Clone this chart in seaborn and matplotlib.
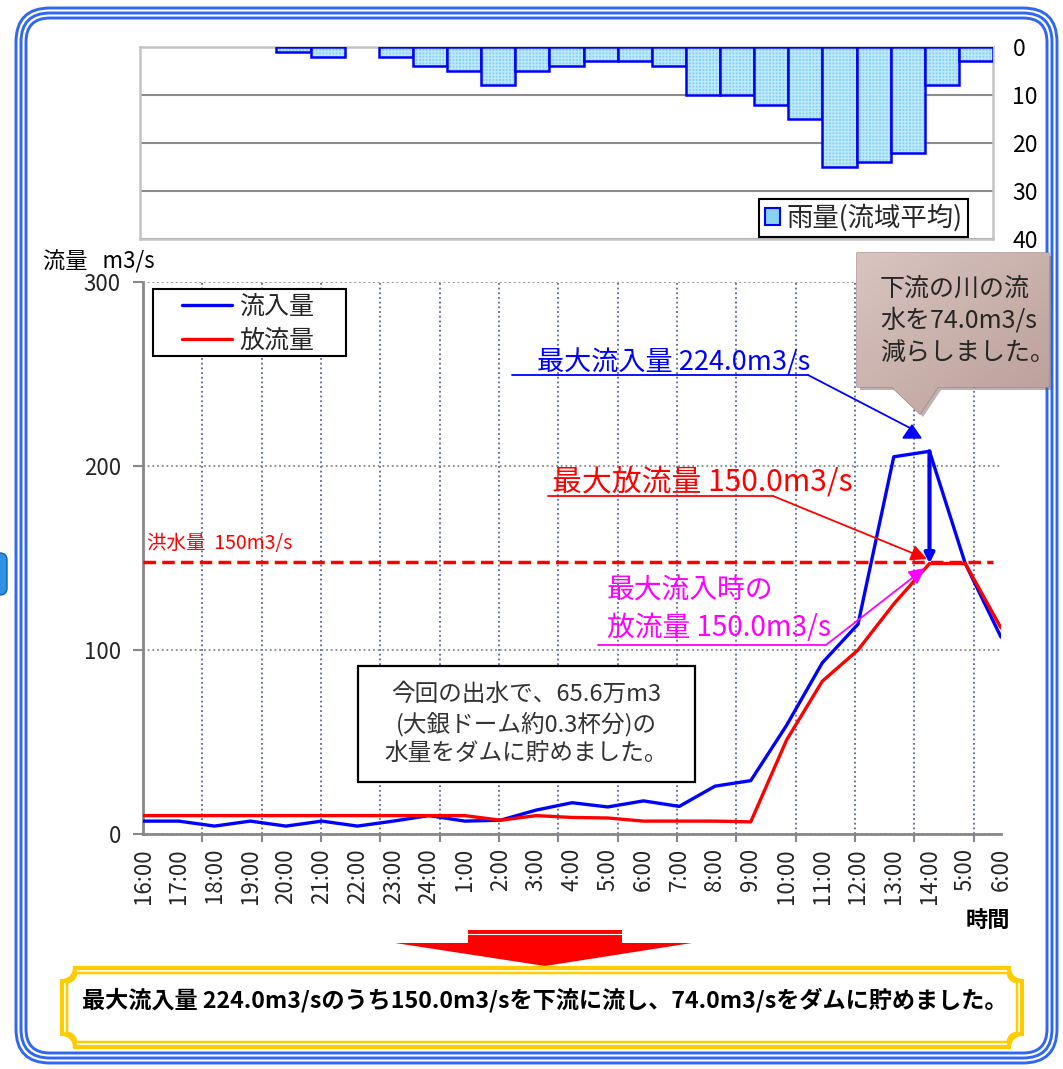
import numpy as np
import pandas as pd
import matplotlib
matplotlib.use("Agg")
import matplotlib.pyplot as plt
import seaborn as sns
from matplotlib.patches import FancyBboxPatch, Rectangle, Polygon, Patch
from matplotlib.lines import Line2D
from matplotlib.colors import to_rgba

# ---------------- data ----------------
time_labels = ['16:00', '17:00', '18:00', '19:00', '20:00', '21:00', '22:00', '23:00',
               '24:00', '1:00', '2:00', '3:00', '4:00', '5:00', '6:00', '7:00', '8:00',
               '9:00', '10:00', '11:00', '12:00', '13:00', '14:00', '5:00', '6:00']
inflow = [7, 7, 4.3, 7, 4.3, 7, 4.3, 7, 10, 7, 7.5, 13, 17, 14.7, 18, 15, 26, 29,
          59, 93, 114, 205, 208, 147, 107]
outflow = [10, 10, 10, 10, 10, 10, 10, 10, 10, 10, 7.5, 10, 9, 8.7, 7, 7, 7, 6.6,
           51, 83, 100, 125, 147, 147, 112]
rain = [0, 0, 0, 0, 1, 2, 0, 2, 4, 5, 8, 5, 4, 3, 3, 4, 10, 10, 12, 15, 25, 24, 22, 8, 3]
flood_level = 148
series_names = ['流入量', '放流量']
rain_name = '雨量(流域平均)'
rain_ticks = [0, 10, 20, 30, 40]
flow_ticks = [0, 100, 200, 300]

# ---------------- style ----------------
sns.set_theme(style='white')
plt.rcParams['font.family'] = ['Noto Sans CJK JP', 'DejaVu Sans']
plt.rcParams['axes.unicode_minus'] = False
plt.rcParams['hatch.linewidth'] = 1.0

W, H = 1063, 1069
fig = plt.figure(figsize=(W / 100, H / 100), dpi=100)
fig.patch.set_facecolor('white')


def rect(l, t, r, b):
    return [l / W, 1 - b / H, (r - l) / W, (b - t) / H]


BLUE = '#0000FF'
RED = '#FF0000'
MAGENTA = '#FF00FF'
CYAN = '#86D3F5'
CYAN_TEX = '#BDE8FA'

# ---------------- rain chart ----------------
axr = fig.add_axes(rect(140, 47, 993, 239))
slots = list(range(len(rain)))
rdf = pd.DataFrame({'slot': slots, 'rain': rain})
sns.barplot(data=rdf, x='slot', y='rain', color=CYAN, edgecolor=BLUE, linewidth=1.8,
            width=1.0, saturation=1, errorbar=None, ax=axr, zorder=3)
for p in axr.patches:
    if p.get_height() == 0:
        p.set_visible(False)
    else:
        p.set_hatch('+++++')
        p._hatch_color = to_rgba(CYAN_TEX)
axr.set_xlim(-0.5, len(rain) - 0.5)
axr.set_ylim(40, 0)
axr.set_yticks(rain_ticks)
axr.yaxis.tick_right()
axr.tick_params(axis='y', length=0, pad=14, labelsize=16.5, colors='black', right=False)
axr.set_xticks([])
axr.set_xlabel('')
axr.set_ylabel('')
axr.yaxis.grid(True, color='#8C8C8C', lw=1.5)
axr.set_axisbelow(True)
for s in axr.spines.values():
    s.set_color('#C4C4C4')
    s.set_linewidth(1.8)
leg_r = axr.legend(handles=[Patch(facecolor=CYAN, edgecolor=BLUE, lw=1.5)], labels=[rain_name],
                   loc='lower right', bbox_to_anchor=(0.971, 0.01), fontsize=19,
                   frameon=True, fancybox=False, edgecolor='black', framealpha=1,
                   handlelength=0.6, handleheight=0.6, handletextpad=0.25, borderpad=0.2,
                   borderaxespad=0)
leg_r.get_frame().set_linewidth(1.5)

# ---------------- main flow chart ----------------
ax = fig.add_axes(rect(143, 282, 1001, 834))
pos = list(range(len(time_labels)))
df = pd.DataFrame({'pos': pos * 2, 'flow': inflow + outflow,
                   'series': [series_names[0]] * len(inflow) + [series_names[1]] * len(outflow)})
sns.lineplot(data=df, x='pos', y='flow', hue='series', hue_order=series_names,
             palette={series_names[0]: BLUE, series_names[1]: RED}, linewidth=2.4,
             legend=False, sort=False, ax=ax, zorder=4)
ax.set_xlim(0, len(pos) - 1)
ax.set_ylim(0, 300)
ax.set_xlabel('')
ax.set_ylabel('')
ax.set_xticks(pos)
ax.set_xticklabels(time_labels, rotation=90, va='top', ha='center', fontsize=16)
grid_pos = np.arange(1, 15) * 1.66
ax.set_xticks(grid_pos, minor=True)
ax.tick_params(axis='x', which='major', length=0, pad=10, bottom=True)
ax.tick_params(axis='x', which='minor', length=6, width=1.5, color='#888888',
               direction='out', bottom=True)
ax.set_yticks(flow_ticks)
ax.tick_params(axis='y', length=7, width=1.5, color='#888888', pad=9, labelsize=16,
               left=True, direction='out')
ax.grid(which='minor', axis='x', color='#5B6796', ls=(0, (1, 1.6)), lw=1.3)
ax.grid(which='major', axis='x', visible=False)
ax.yaxis.grid(True, color='#8A8A8A', ls=(0, (1, 1.6)), lw=1.3)
ax.set_axisbelow(True)
for side in ['top', 'right']:
    ax.spines[side].set_visible(False)
for side in ['left', 'bottom']:
    ax.spines[side].set_color('#888888')
    ax.spines[side].set_linewidth(2)
ax.patch.set_alpha(0)

ax.axhline(flood_level, xmin=0, xmax=(993 - 143) / 858, color=RED, lw=2.5,
           ls=(0, (3.6, 1.8)), zorder=3)

# drop from peak inflow to released flow
ax.annotate('', xy=(22, outflow[22]), xytext=(22, inflow[22]),
            arrowprops=dict(arrowstyle='-|>', color=BLUE, lw=3, mutation_scale=14,
                            shrinkA=0, shrinkB=0), zorder=5)

# legend: framed box drawn separately for the wide Excel-like padding
ax.add_patch(Rectangle(((153 - 143) / 858, (834 - 356) / 552), 193 / 858, 67 / 552,
                       transform=ax.transAxes, fc='white', ec='black', lw=1.5, zorder=6))
leg = ax.legend(handles=[Line2D([], [], color=BLUE, lw=2.4), Line2D([], [], color=RED, lw=2.4)],
                labels=series_names, loc='upper left', bbox_to_anchor=((182 - 143) / 858, 0.979),
                fontsize=18, frameon=False, handlelength=2.0, borderpad=0, labelspacing=0.33,
                handletextpad=0.3, borderaxespad=0)
leg.set_zorder(7)

# ---------------- overlay (pixel coordinates) ----------------
ov = fig.add_axes([0, 0, 1, 1], zorder=10)
ov.set_xlim(0, W)
ov.set_ylim(H, 0)
ov.axis('off')

# outer triple blue frame
for i, inset in enumerate([0, 5, 10]):
    ov.add_patch(FancyBboxPatch((16 + inset, 8 + inset), 1041 - 2 * inset, 1055 - 2 * inset,
                                boxstyle='round,pad=0,rounding_size=%d' % (34 - inset),
                                fc='none', ec='#2F66F2', lw=2.1))
# stray button at far left
ov.add_patch(FancyBboxPatch((-20, 553), 27, 42, boxstyle='round,pad=0,rounding_size=7',
                            fc='#2E93E6', ec='#1060B0', lw=1))

# axis titles
ov.text(43, 262, '流量   m3/s', ha='left', va='center', fontsize=16, color='black')
ov.text(1010, 920, '時間', ha='right', va='center', fontsize=16, fontweight='bold', color='black')
ov.text(147, 543, '洪水量  150m3/s', ha='left', va='center', fontsize=14, color=RED)

# blue annotation
ov.text(537, 362, '最大流入量 224.0m3/s', ha='left', va='center', fontsize=19.5, color=BLUE)
ov.plot([512, 808], [375, 375], color=BLUE, lw=1.3)
ov.plot([808, 912], [375, 429], color=BLUE, lw=1.3)
ov.add_patch(Polygon([(903, 438), (921, 438), (912, 425)], closed=True, color=BLUE))

# red annotation
ov.text(552, 482, '最大放流量 150.0m3/s', ha='left', va='center', fontsize=21.5, color=RED)
ov.plot([548, 773], [496, 496], color=RED, lw=1.3)
ov.annotate('', xy=(927, 559), xytext=(773, 496),
            arrowprops=dict(arrowstyle='-|>', color=RED, lw=1.3, mutation_scale=24,
                            shrinkA=0, shrinkB=0))

# magenta annotation
ov.text(607, 590, '最大流入時の', ha='left', va='center', fontsize=20, color=MAGENTA)
ov.text(607, 628, '放流量 150.0m3/s', ha='left', va='center', fontsize=20, color=MAGENTA)
ov.plot([598, 826], [645, 645], color=MAGENTA, lw=1.3)
ov.annotate('', xy=(925, 568), xytext=(826, 645),
            arrowprops=dict(arrowstyle='-|>', color=MAGENTA, lw=1.3, mutation_scale=24,
                            shrinkA=0, shrinkB=0))

# storage text box
ov.add_patch(Rectangle((358, 666), 337, 116, fc='white', ec='black', lw=1.6))
ov.text(526, 724, '今回の出水で、65.6万m3\n(大銀ドーム約0.3杯分)の\n水量をダムに貯めました。',
        ha='center', va='center', fontsize=17, linespacing=1.3, color='#333333')

# callout box with gradient
call_pts = [(857, 253), (1049, 253), (1049, 387), (938, 387), (920, 414), (892, 387), (857, 387)]
shadow = Polygon([(x + 3, y + 3) for x, y in call_pts], closed=True, fc='#6E5652', ec='none', alpha=0.45)
ov.add_patch(shadow)
call_patch = Polygon(call_pts, closed=True, fc='none', ec='#A08884', lw=1)
ov.add_patch(call_patch)
gy, gx = np.mgrid[0:1:60j, 0:1:60j]
t = (gx + gy) / 2
c1 = np.array([0.85, 0.77, 0.75])
c2 = np.array([0.73, 0.62, 0.60])
grad = c1[None, None, :] * (1 - t[..., None]) + c2[None, None, :] * t[..., None]
im = ov.imshow(grad, extent=(857, 1049, 414, 253), aspect='auto', zorder=1, interpolation='bilinear')
im.set_clip_path(call_patch)
ov.text(880, 321, '下流の川の流\n水を74.0m3/s\n減らしました。', ha='left', va='center',
        fontsize=18, linespacing=1.3, color='#262626', zorder=3)

# big red arrow
ov.add_patch(Rectangle((468, 930), 154, 14, fc=RED, ec='none'))
ov.plot([468, 622], [933.5, 933.5], color='white', lw=0.8)
ov.add_patch(Polygon([(395, 943), (692, 943), (545, 966)], closed=True, fc=RED, ec='none'))


# banner with concave corners
def notched(x0, y0, x1, y1, r, n=16):
    tt = np.linspace(0, np.pi / 2, n)
    pts = [(x0 + r, y0), (x1 - r, y0)]
    pts += [(x1 - r * np.cos(a), y0 + r * np.sin(a)) for a in tt]
    pts += [(x1, y1 - r)]
    pts += [(x1 - r * np.sin(a), y1 - r * np.cos(a)) for a in tt]
    pts += [(x0 + r, y1)]
    pts += [(x0 + r * np.cos(a), y1 - r * np.sin(a)) for a in tt]
    pts += [(x0, y0 + r)]
    pts += [(x0 + r * np.sin(a), y0 + r * np.cos(a)) for a in tt]
    return pts


ov.add_patch(Polygon(notched(62, 968, 1022, 1047, 13), closed=True, fc='white', ec='#FFCC00', lw=3))
ov.add_patch(Polygon(notched(67, 973, 1017, 1042, 9), closed=True, fc='none', ec='#FFCC00', lw=1.8))
ov.text(82, 1000, '最大流入量 224.0m3/sのうち150.0m3/sを下流に流し、74.0m3/sをダムに貯めました。',
        ha='left', va='center', fontsize=16.7, fontweight='bold', color='black')

ov.set_xlim(0, W)
ov.set_ylim(H, 0)

fig.savefig('out.png', dpi=100, facecolor='white')
